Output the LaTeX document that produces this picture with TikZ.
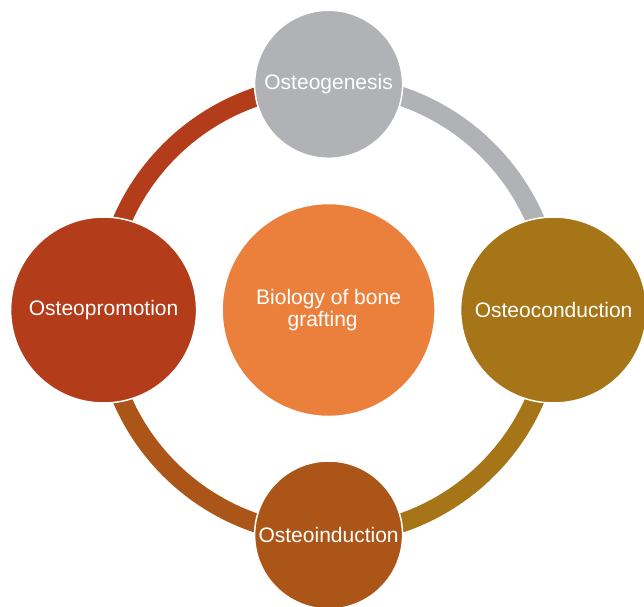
\documentclass[tikz,border=0pt]{standalone}
\usepackage{fontspec}
\setmainfont{Liberation Sans}
\usetikzlibrary{backgrounds}
\definecolor{cgray}{HTML}{B1B2B5}
\definecolor{cred}{HTML}{B33C1A}
\definecolor{cgold}{HTML}{A67518}
\definecolor{cbrown}{HTML}{AB5519}
\definecolor{corange}{HTML}{EB803D}
\tikzset{
  bubble/.style={circle, draw=white, line width=1.5pt, inner sep=0pt, text=white,
    font=\fontsize{21}{22}\selectfont, align=center},
  ringarc/.style={line width=19pt, line cap=butt}
}
\begin{document}
\begin{tikzpicture}[x=1pt,y=1pt]
\useasboundingbox (0,0) rectangle (644,606);
\node[bubble, fill=corange, minimum size=213pt] (core) at (328.6,296) {Biology of bone\\grafting\hspace*{12pt}};
\node[bubble, fill=cgray, minimum size=148pt] (gen) at (328.6,521.7) {Osteogenesis};
\node[bubble, fill=cgold, minimum size=186pt] (cond) at (553.6,296) {Osteoconduction};
\node[bubble, fill=cbrown, minimum size=148pt] (ind) at (328.6,71) {Osteoinduction};
\node[bubble, fill=cred, minimum size=186pt] (prom) at (103.6,296) {Osteopromotion};
\begin{pgfonlayer}{background}
\draw[ringarc, cgray] (gen.center) arc[start angle=90, end angle=0, radius=225];
\draw[ringarc, cgold] (cond.center) arc[start angle=0, end angle=-90, radius=225];
\draw[ringarc, cbrown] (ind.center) arc[start angle=-90, end angle=-180, radius=225];
\draw[ringarc, cred] (prom.center) arc[start angle=180, end angle=90, radius=225];
\end{pgfonlayer}
\end{tikzpicture}
\end{document}
